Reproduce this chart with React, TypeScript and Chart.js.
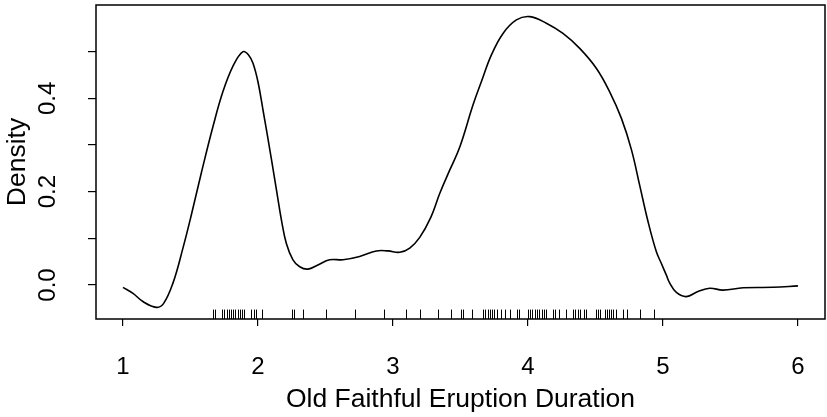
import React, { useEffect, useRef } from 'react';
import { Chart, registerables } from 'chart.js';

Chart.register(...registerables);

// Density curve (x = eruption duration in minutes, y = estimated density)
const densityX = [
  1.0, 1.074, 1.15, 1.247, 1.3, 1.37, 1.444, 1.507, 1.58, 1.667, 1.741, 1.82, 1.889,
  1.93, 1.963, 2.0, 2.037, 2.07, 2.099, 2.136, 2.173, 2.21, 2.259, 2.309, 2.37, 2.444,
  2.531, 2.63, 2.753, 2.877, 2.963, 3.05, 3.124, 3.198, 3.28, 3.346, 3.42, 3.494, 3.593,
  3.655, 3.729, 3.815, 3.914, 4.013, 4.136, 4.259, 4.383, 4.507, 4.605, 4.692, 4.766,
  4.827, 4.889, 4.951, 4.988, 5.025, 5.05, 5.099, 5.173, 5.259, 5.346, 5.444, 5.593,
  5.815, 6.0,
];
const densityY = [
  -0.005, -0.018, -0.036, -0.048, -0.04, 0.004, 0.079, 0.151, 0.24, 0.34, 0.415, 0.472, 0.5,
  0.493, 0.475, 0.435, 0.375, 0.32, 0.27, 0.205, 0.14, 0.089, 0.054, 0.039, 0.034, 0.043,
  0.054, 0.054, 0.061, 0.073, 0.073, 0.07, 0.079, 0.102, 0.145, 0.196, 0.246, 0.295, 0.386,
  0.436, 0.493, 0.539, 0.568, 0.575, 0.561, 0.539, 0.507, 0.464, 0.414, 0.357, 0.29,
  0.214, 0.136, 0.071, 0.046, 0.021, 0.004, -0.016, -0.025, -0.014, -0.007, -0.011, -0.006,
  -0.005, -0.002,
];

// Rug: observed eruption durations
const rugValues = [
  1.667, 1.683, 1.733, 1.75, 1.767, 1.783, 1.8, 1.817, 1.833, 1.85, 1.867, 1.883, 1.9,
  1.95, 1.967, 1.983, 2.033, 2.25, 2.267, 2.333, 2.5, 2.717, 2.933, 3.1, 3.2, 3.333,
  3.433, 3.5, 3.517, 3.583, 3.667, 3.683, 3.7, 3.717, 3.733, 3.75, 3.767, 3.8, 3.833,
  3.867, 3.917, 3.933, 4.0, 4.017, 4.033, 4.05, 4.067, 4.083, 4.1, 4.117, 4.133, 4.183,
  4.2, 4.233, 4.283, 4.333, 4.35, 4.367, 4.383, 4.417, 4.433, 4.5, 4.517, 4.533, 4.567,
  4.583, 4.6, 4.617, 4.633, 4.65, 4.7, 4.733, 4.833, 4.933,
];

const xTickValues = [1, 2, 3, 4, 5, 6];
const yTickValues = [0, 0.1, 0.2, 0.3, 0.4, 0.5];
const yTickLabels = ['0.0', '', '0.2', '', '0.4', ''];
const xTitle = 'Old Faithful Eruption Duration';
const yTitle = 'Density';

const FONT = '"Liberation Sans", Arial, Helvetica, sans-serif';

export default function App() {
  const ref = useRef<HTMLCanvasElement>(null);

  useEffect(() => {
    document.body.style.margin = '0';
    const canvas = ref.current;
    if (!canvas) return;

    const rPlot = {
      id: 'rPlot',
      afterDraw(chart: any) {
        const { ctx, chartArea: a, scales } = chart;
        ctx.save();
        // plot box
        ctx.strokeStyle = '#000';
        ctx.lineWidth = 1.5;
        ctx.strokeRect(a.left, a.top, a.right - a.left, a.bottom - a.top);
        // rug
        ctx.lineWidth = 1;
        const rugLen = (a.bottom - a.top) * 0.03;
        rugValues.forEach((v) => {
          const px = Math.round(scales.x.getPixelForValue(v)) + 0.5;
          ctx.beginPath();
          ctx.moveTo(px, a.bottom);
          ctx.lineTo(px, a.bottom - rugLen);
          ctx.stroke();
        });
        // rotated y tick labels (R style)
        ctx.font = `24px ${FONT}`;
        ctx.fillStyle = '#000';
        ctx.textAlign = 'center';
        ctx.textBaseline = 'middle';
        yTickValues.forEach((v, i) => {
          const lab = yTickLabels[i];
          if (!lab) return;
          const py = scales.y.getPixelForValue(v);
          ctx.save();
          ctx.translate(a.left - 48, py);
          ctx.rotate(-Math.PI / 2);
          ctx.fillText(lab, 0, 0);
          ctx.restore();
        });
        ctx.restore();
      },
    };

    const chart = new Chart(canvas, {
      type: 'line',
      data: {
        datasets: [
          {
            data: densityX.map((x, i) => ({ x, y: densityY[i] })),
            borderColor: '#000',
            borderWidth: 1.6,
            pointRadius: 0,
            fill: false,
            tension: 0.4,
          },
        ],
      },
      options: {
        responsive: false,
        animation: false,
        events: [],
        layout: { padding: { top: 5, right: 2, left: 0, bottom: 0 } },
        plugins: { legend: { display: false }, tooltip: { enabled: false } },
        scales: {
          x: {
            type: 'linear',
            min: 0.8,
            max: 6.2,
            afterBuildTicks: (s: any) => {
              s.ticks = xTickValues.map((v) => ({ value: v }));
            },
            afterFit: (s: any) => {
              s.height = 98;
              s.paddingLeft = 0;
              s.paddingRight = 0;
            },
            grid: {
              display: true,
              drawOnChartArea: false,
              drawTicks: true,
              tickLength: 7,
              color: '#000',
              lineWidth: 1.2,
            },
            border: { display: false },
            ticks: {
              color: '#000',
              font: { family: FONT, size: 24 },
              padding: 27,
              maxRotation: 0,
              autoSkip: false,
              callback: (v: any) => String(v),
            },
            title: {
              display: true,
              text: xTitle,
              color: '#000',
              font: { family: FONT, size: 26.5 },
              padding: { top: 0, bottom: 1 },
            },
          },
          y: {
            type: 'linear',
            min: -0.0729,
            max: 0.6,
            afterBuildTicks: (s: any) => {
              s.ticks = yTickValues.map((v) => ({ value: v }));
            },
            afterFit: (s: any) => {
              s.width = 96;
              s.paddingTop = 0;
              s.paddingBottom = 0;
            },
            grid: {
              display: true,
              drawOnChartArea: false,
              drawTicks: true,
              tickLength: 8,
              color: '#000',
              lineWidth: 1.2,
            },
            border: { display: false },
            ticks: { display: false },
            title: {
              display: true,
              text: yTitle,
              color: '#000',
              font: { family: FONT, size: 26.5 },
              padding: { top: 1.5, bottom: 0 },
            },
          },
        },
      },
      plugins: [rPlot],
    } as any);

    return () => chart.destroy();
  }, []);

  return (
    <div style={{ width: 827, height: 417, background: '#fff' }}>
      <canvas ref={ref} width={827} height={417} />
    </div>
  );
}
